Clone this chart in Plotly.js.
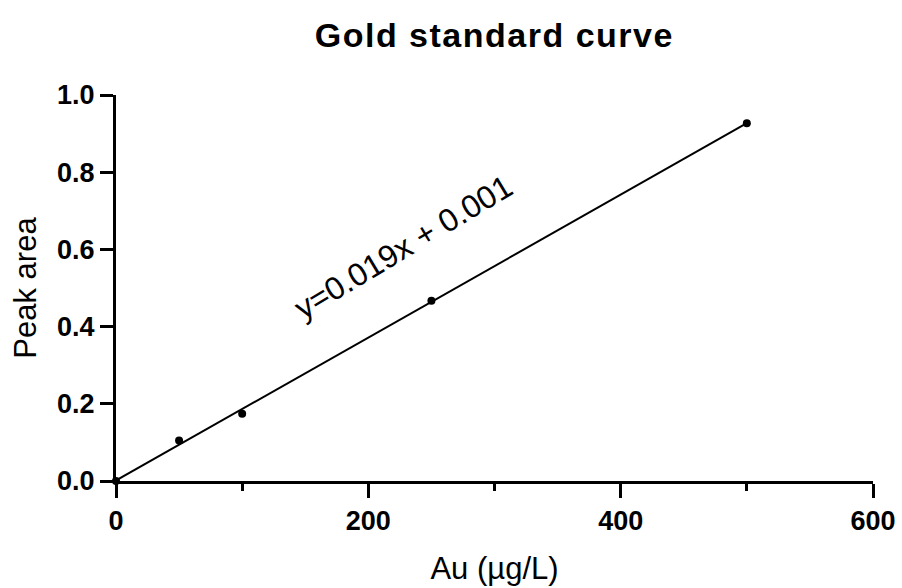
<!DOCTYPE html>
<html>
<head>
<meta charset="utf-8">
<script src="https://cdn.plot.ly/plotly-3.0.1.min.js"></script>
<style>
  html, body { margin: 0; padding: 0; background: #fff; }
  #chart { width: 902px; height: 588px; }
  .gtitle { letter-spacing: 1.5px; }
</style>
</head>
<body>
<div id="chart"></div>
<script>
// Data
const concentration = [0, 50, 100, 250, 500];          // Au (µg/L)
const peakArea = [0.0, 0.105, 0.174, 0.467, 0.927];    // Peak area
const equationText = "y=0.019x + 0.001";
const xTickVals = [0, 200, 400, 600];
const yTickVals = [0.0, 0.2, 0.4, 0.6, 0.8, 1.0];

// Least-squares fit of the data
const n = concentration.length;
const mx = concentration.reduce((a, b) => a + b, 0) / n;
const my = peakArea.reduce((a, b) => a + b, 0) / n;
let sxy = 0, sxx = 0;
for (let i = 0; i < n; i++) {
  sxy += (concentration[i] - mx) * (peakArea[i] - my);
  sxx += (concentration[i] - mx) * (concentration[i] - mx);
}
const slope = sxy / sxx;
const intercept = my - slope * mx;
const fitX = [Math.min(...concentration), Math.max(...concentration)];
const fitY = fitX.map(x => intercept + slope * x);

const font = "Liberation Sans, Arial, Helvetica, sans-serif";

const traces = [
  {
    x: fitX, y: fitY, mode: "lines", type: "scatter",
    line: { color: "#000", width: 2 }, hoverinfo: "skip", showlegend: false
  },
  {
    x: concentration, y: peakArea, mode: "markers", type: "scatter",
    marker: { color: "#000", size: 8 }, showlegend: false, cliponaxis: false
  }
];

const layout = {
  width: 902, height: 588,
  paper_bgcolor: "#fff", plot_bgcolor: "#fff",
  margin: { l: 116, r: 29, t: 95, b: 107 },
  showlegend: false,
  title: {
    text: "<b>Gold standard curve</b>",
    font: { family: font, size: 34, color: "#000" },
    x: 0.548, xanchor: "center", y: 0.94, yanchor: "middle"
  },
  xaxis: {
    range: [0, 600], tickvals: xTickVals,
    showgrid: false, zeroline: false,
    showline: true, linecolor: "#000", linewidth: 3,
    ticks: "outside", ticklen: 14, tickwidth: 3, tickcolor: "#000",
    minor: { dtick: 100, ticks: "outside", ticklen: 7, tickwidth: 3, tickcolor: "#000", showgrid: false },
    tickfont: { family: font, size: 27, color: "#000", weight: "bold" },
    title: { text: "Au (µg/L)", font: { family: font, size: 31, color: "#000" }, standoff: 22 }
  },
  yaxis: {
    range: [0, 1], tickvals: yTickVals, tickformat: ".1f",
    showgrid: false, zeroline: false,
    showline: true, linecolor: "#000", linewidth: 3,
    ticks: "outside", ticklen: 13, tickwidth: 3, tickcolor: "#000",
    tickfont: { family: font, size: 27, color: "#000", weight: "bold" },
    title: { text: "Peak area", font: { family: font, size: 31, color: "#000" }, standoff: 12 }
  },
  annotations: [
    {
      text: equationText, xref: "x", yref: "y", x: 228, y: 0.605,
      showarrow: false, textangle: -31,
      font: { family: font, size: 32, color: "#000" }
    }
  ]
};

Plotly.newPlot("chart", traces, layout, { displayModeBar: false, staticPlot: true });
</script>
</body>
</html>
